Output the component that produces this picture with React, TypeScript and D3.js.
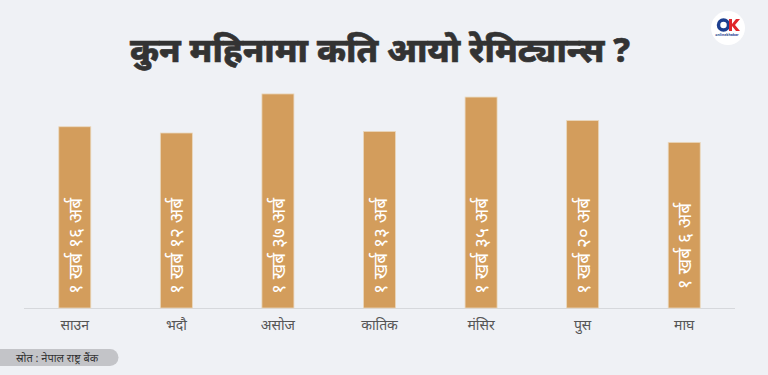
import React, { useEffect } from "react";
import * as d3 from "d3";

const months = ["साउन", "भदौ", "असोज", "कातिक", "मंसिर", "पुस", "माघ"];
const values = [116, 112, 137, 113, 135, 120, 106];
const valueLabels = [
  "१ खर्ब १६ अर्ब",
  "१ खर्ब १२ अर्ब",
  "१ खर्ब ३७ अर्ब",
  "१ खर्ब १३ अर्ब",
  "१ खर्ब ३५ अर्ब",
  "१ खर्ब २० अर्ब",
  "१ खर्ब ६ अर्ब",
];
const title = "कुन महिनामा कति आयो रेमिट्यान्स ?";
const source = "स्रोत : नेपाल राष्ट्र बैंक";

const W = 768;
const H = 375;
const FONT = "'Noto Sans', 'Noto Sans Devanagari', sans-serif";

export default function App() {
  useEffect(() => {
    document.body.style.margin = "0";
  }, []);

  const x = d3
    .scaleBand<string>()
    .domain(months)
    .range([24, 735])
    .paddingInner(0.685)
    .paddingOuter(0.3425);
  const y = d3.scaleLinear().domain([0, 140]).range([308, 89.25]);

  return (
    <svg
      width={W}
      height={H}
      style={{ position: "fixed", left: 0, top: 0, display: "block" }}
      fontFamily={FONT}
    >
      <rect width={W} height={H} fill="#eff1f5" />
      <text
        x={380}
        y={62}
        textAnchor="middle"
        fontSize={34}
        fontWeight={800}
        fill="#333333"
        textLength={500}
        lengthAdjust="spacingAndGlyphs"
        stroke="#333333"
        strokeWidth={0.6}
      >
        {title}
      </text>

      {/* logo */}
      <g>
        <circle cx={728} cy={28} r={17} fill="#ffffff" />
        <circle cx={723.5} cy={25} r={5} fill="none" stroke="#1d3f8f" strokeWidth={3.5} />
        <path d="M729 19 L732 19 L732 24 L736 19 L740 19 L735 25 L740 31 L736 31 L732 26 L732 31 L729 31 Z" fill="#e0262b" />
        <text x={727} y={36} fontSize={3.5} textAnchor="middle" fill="#1d3f8f" fontWeight={700}>
          onlinekhabar
        </text>
      </g>

      {/* axis line */}
      <line x1={24} x2={735} y1={308.5} y2={308.5} stroke="#d6d8dc" strokeWidth={1} />

      {months.map((m, i) => {
        const bx = x(m)!;
        const bw = x.bandwidth();
        const cx = bx + bw / 2;
        return (
          <g key={m}>
            <rect
              x={bx}
              y={y(values[i])}
              width={bw}
              height={y(0) - y(values[i])}
              fill="#d39d5c"
              stroke="#ead8bd"
              strokeWidth={0.8}
            />
            <text
              transform={`translate(${cx + 7},246) rotate(-90)`}
              fontSize={19}
              fill="#ffffff"
              textAnchor="middle"
            >
              {valueLabels[i]}
            </text>
            <text x={cx} y={330} fontSize={14} fill="#555555" textAnchor="middle">
              {m}
            </text>
          </g>
        );
      })}

      {/* source */}
      <path d="M0 349 H110 A8.5 8.5 0 0 1 110 366 H0 Z" fill="#c3c4c8" />
      <text x={16} y={361.5} fontSize={11} fill="#333333">
        {source}
      </text>
    </svg>
  );
}
